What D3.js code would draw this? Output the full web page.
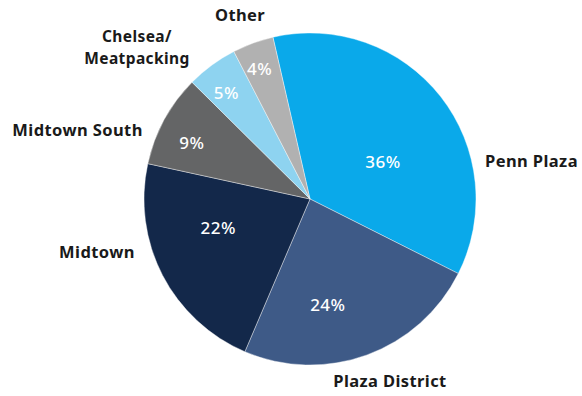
<!DOCTYPE html>
<html>
<head>
<meta charset="utf-8">
<script src="https://cdn.jsdelivr.net/npm/d3@7"></script>
<style>
  body { margin: 0; background: #fff; }
  text { font-family: "Noto Sans", sans-serif; }
</style>
</head>
<body>
<svg width="582" height="396"></svg>
<script>
// data
const categories = ["Penn Plaza", "Plaza District", "Midtown", "Midtown South", "Chelsea/Meatpacking", "Other"];
const shares = [36, 24, 22, 9, 5, 4];
const colors = ["#0aa9ea", "#3e5a87", "#13284a", "#646566", "#8ed3f0", "#b1b1b1"];

// label layout tweaks (degrees off the slice middle, radius in px)
const innerShift = [11, 10.5, 10, -3, -2, -1];
const innerRadius = [82, 107, 96, 131, 135, 140];
const outerShift = [26, -3.6, 10.5, -6, -12.5, -0.7];
const outerRadius = [179, 199, 183, 181, 230, 197];
const outerAnchor = ["start", "middle", "end", "end", "middle", "middle"];

const svg = d3.select("svg");
const cx = 310, cy = 199, r = 166;
const g = svg.append("g").attr("transform", `translate(${cx},${cy})`);

const rad = deg => deg * Math.PI / 180;
const pie = d3.pie().sort(null).startAngle(rad(-12.9)).endAngle(rad(347.1));
const arcs = pie(shares);
const arc = d3.arc().innerRadius(0).outerRadius(r);

g.selectAll("path")
  .data(arcs)
  .join("path")
  .attr("d", arc)
  .attr("fill", (d, i) => colors[i])
  .attr("stroke", "#fff")
  .attr("stroke-width", 0.4);

const polar = (d, shift, dist) => {
  const a = (d.startAngle + d.endAngle) / 2 + rad(shift);
  return [Math.sin(a) * dist, -Math.cos(a) * dist];
};

g.selectAll("text.pct")
  .data(arcs)
  .join("text")
  .attr("class", "pct")
  .attr("transform", (d, i) => `translate(${polar(d, innerShift[i], innerRadius[i])})`)
  .attr("text-anchor", "middle")
  .attr("dy", "0.36em")
  .attr("fill", "#fff")
  .attr("font-size", 17)
  .attr("font-weight", 500)
  .attr("letter-spacing", 0.5)
  .text(d => d.data + "%");

const labels = g.selectAll("text.lbl")
  .data(arcs)
  .join("text")
  .attr("class", "lbl")
  .attr("transform", (d, i) => `translate(${polar(d, outerShift[i], outerRadius[i])})`)
  .attr("text-anchor", (d, i) => outerAnchor[i])
  .attr("fill", "#1a1a1a")
  .attr("font-size", (d, i) => categories[i].includes("/") ? 15.5 : 16.5)
  .attr("font-weight", 700)
  .attr("letter-spacing", 0.4);

labels.each(function(d, i) {
  const parts = categories[i].includes("/") ? [categories[i].split("/")[0] + "/", categories[i].split("/")[1]] : [categories[i]];
  const t = d3.select(this);
  parts.forEach((p, k) => {
    t.append("tspan")
      .attr("x", 0)
      .attr("dy", k === 0 ? `${0.36 - (parts.length - 1) * 0.69}em` : "1.38em")
      .text(p);
  });
});
</script>
</body>
</html>
